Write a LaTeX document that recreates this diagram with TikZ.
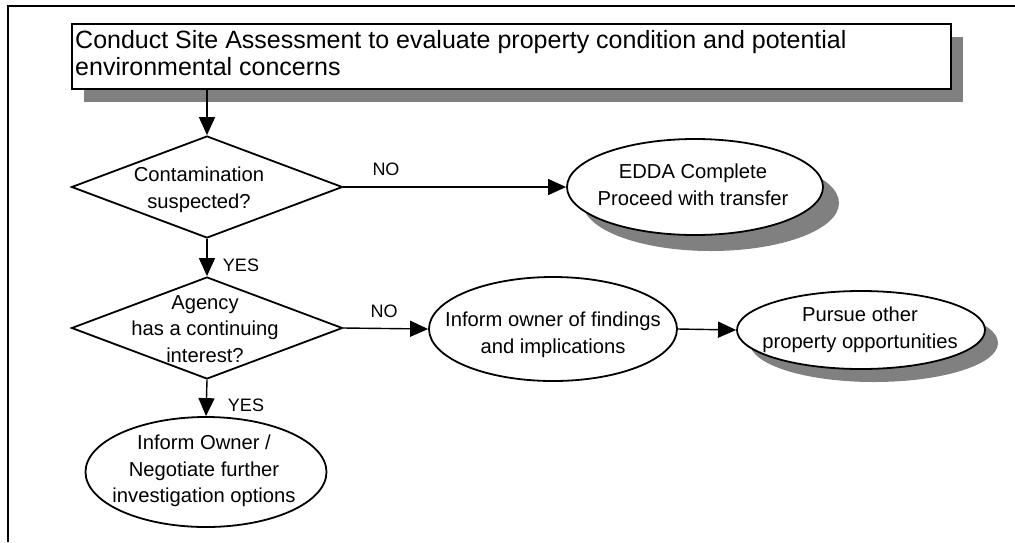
\documentclass[tikz,border=0pt]{standalone}
\usepackage{fontspec}
\setmainfont{Liberation Sans}
\usetikzlibrary{shapes.geometric,arrows.meta,shadows}
\definecolor{shade}{RGB}{128,128,128}
\begin{document}
\begin{tikzpicture}[x=1pt,y=-1pt,
  outline/.style={draw=black,line width=1.8pt,fill=white},
  shadowed/.style={drop shadow={shadow xshift=#1,shadow yshift=-#1,fill=shade,opacity=1}},
  decision/.style={outline,diamond,inner sep=0pt,minimum width=271pt,minimum height=102pt},
  oval/.style={outline,ellipse,inner sep=0pt},
  caption/.style={align=center,inner sep=0pt,font=\fontsize{20.2}{26.5}\selectfont},
  flow/.style={line width=1.4pt,-{Triangle[length=18pt,width=16pt]}},
  tag/.style={inner sep=0pt,font=\fontsize{18}{20}\selectfont}
]
\useasboundingbox (0,0) rectangle (1015,542);

% page frame
\draw[line width=2pt] (8,542) -- (8,6) -- (1015,6);

% opening step
\node[outline,rectangle,minimum width=879pt,minimum height=65pt,inner sep=0pt,
      drop shadow={shadow xshift=12pt,shadow yshift=-13pt,fill=shade,opacity=1}]
      (assess) at (511.5,56.5) {};
\node[anchor=north west,align=left,inner sep=0pt,font=\fontsize{25}{27}\selectfont]
      (assesst) at (75,30) {Conduct Site Assessment to evaluate property condition and potential\\environmental concerns};

% decisions
\node[decision] (contam) at (207,187) {};
\node[caption] (contamt) at (199,190) {Contamination\\suspected?};
\node[decision] (agency) at (207,328) {};
\node[caption] (agencyt) at (205,329) {Agency\\has a continuing\\interest?};

% outcomes
\node[oval,minimum width=256pt,minimum height=96pt,shadowed=16pt] (edda) at (695,187) {};
\node[caption] (eddat) at (693,185) {EDDA Complete\\Proceed with transfer};
\node[oval,minimum width=248pt,minimum height=104pt] (inform) at (553,329) {};
\node[caption] (informt) at (553,335) {Inform owner of findings\\and implications};
\node[oval,minimum width=248pt,minimum height=78pt,shadowed=13pt] (pursue) at (861,330) {};
\node[caption] (pursuet) at (860,330) {Pursue other\\property opportunities};
\node[oval,minimum width=241pt,minimum height=110pt] (negot) at (206,472) {};
\node[caption] (negott) at (204,471) {Inform Owner /\\Negotiate further\\investigation options};

% connectors
\draw[flow] (contam.north |- assess.south) -- (contam.north);
\draw[flow] (contam.east) -- (edda.west);
\draw[flow] (contam.south) -- (agency.north);
\draw[flow] (agency.east) -- (inform.west);
\draw[flow] (inform.east) -- (pursue.west);
\draw[flow] (agency.south) -- (negot.north);

% branch labels
\node[tag] (no1) at (386,169) {NO};
\node[tag] (yes1) at (241,265) {YES};
\node[tag] (no2) at (384,311) {NO};
\node[tag] (yes2) at (246,405) {YES};
\end{tikzpicture}
\end{document}
